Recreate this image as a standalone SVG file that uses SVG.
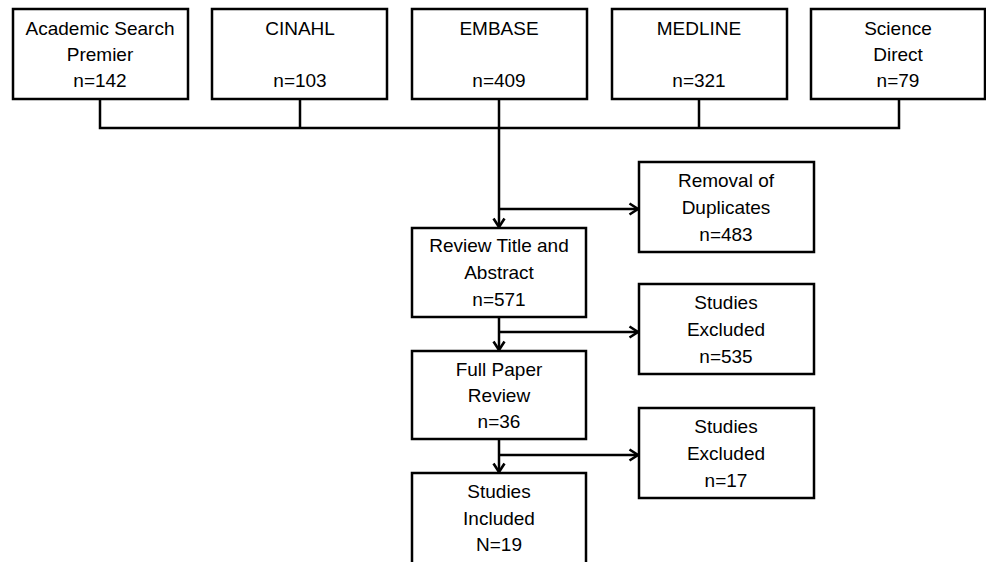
<svg xmlns="http://www.w3.org/2000/svg" width="986" height="562" viewBox="0 0 986 562">
<defs>
<marker id="arr" viewBox="0 0 14 14" refX="12.5" refY="7" markerWidth="14" markerHeight="14" markerUnits="userSpaceOnUse" orient="auto">
<path d="M4,1.5 L12.5,7 L4,12.5" fill="none" stroke="#000" stroke-width="2.6"/>
</marker>
</defs>
<style>
rect{fill:#fff;stroke:#000;stroke-width:2.5}
text{font-family:"Liberation Sans",Arial,sans-serif;font-size:19px;fill:#000;text-anchor:middle}
.c path,.c line{stroke:#000;stroke-width:2.5;fill:none}
</style>
<rect x="0" y="0" width="986" height="562" style="stroke:none;fill:#fff"/>
<g class="c" id="connectors">
<path d="M100,99 V128 H899 V99"/>
<line x1="300" y1="99" x2="300" y2="128"/>
<line x1="699" y1="99" x2="699" y2="128"/>
<line x1="499" y1="99" x2="499" y2="227" marker-end="url(#arr)"/>
<line x1="499" y1="209" x2="638" y2="209" marker-end="url(#arr)"/>
<line x1="499" y1="317" x2="499" y2="350" marker-end="url(#arr)"/>
<line x1="499" y1="332" x2="638" y2="332" marker-end="url(#arr)"/>
<line x1="499" y1="439" x2="499" y2="472" marker-end="url(#arr)"/>
<line x1="499" y1="455" x2="638" y2="455" marker-end="url(#arr)"/>
</g>
<g id="asp"><rect x="13" y="9" width="175" height="90"/><text x="100" y="35">Academic Search</text><text x="100" y="61">Premier</text><text x="100" y="87">n=142</text></g>
<g id="cinahl"><rect x="212" y="9" width="175" height="90"/><text x="300" y="35">CINAHL</text><text x="300" y="87">n=103</text></g>
<g id="embase"><rect x="412" y="9" width="175" height="90"/><text x="499" y="35">EMBASE</text><text x="499" y="87">n=409</text></g>
<g id="medline"><rect x="612" y="9" width="175" height="90"/><text x="699" y="35">MEDLINE</text><text x="699" y="87">n=321</text></g>
<g id="sciencedirect"><rect x="811" y="9" width="174" height="90"/><text x="898" y="35">Science</text><text x="898" y="61">Direct</text><text x="898" y="87">n=79</text></g>
<g id="removal"><rect x="639" y="162" width="175" height="90"/><text x="726" y="187">Removal of</text><text x="726" y="214">Duplicates</text><text x="726" y="241">n=483</text></g>
<g id="review"><rect x="412" y="228" width="174" height="89"/><text x="499" y="252">Review Title and</text><text x="499" y="279">Abstract</text><text x="499" y="306">n=571</text></g>
<g id="excluded1"><rect x="639" y="284" width="175" height="90"/><text x="726" y="309">Studies</text><text x="726" y="336">Excluded</text><text x="726" y="363">n=535</text></g>
<g id="fullpaper"><rect x="412" y="351" width="174" height="88"/><text x="499" y="376">Full Paper</text><text x="499" y="402">Review</text><text x="499" y="428">n=36</text></g>
<g id="excluded2"><rect x="639" y="408" width="175" height="90"/><text x="726" y="433">Studies</text><text x="726" y="460">Excluded</text><text x="726" y="487">n=17</text></g>
<g id="included"><rect x="412" y="473" width="174" height="95"/><text x="499" y="498">Studies</text><text x="499" y="525">Included</text><text x="499" y="551">N=19</text></g>
</svg>
